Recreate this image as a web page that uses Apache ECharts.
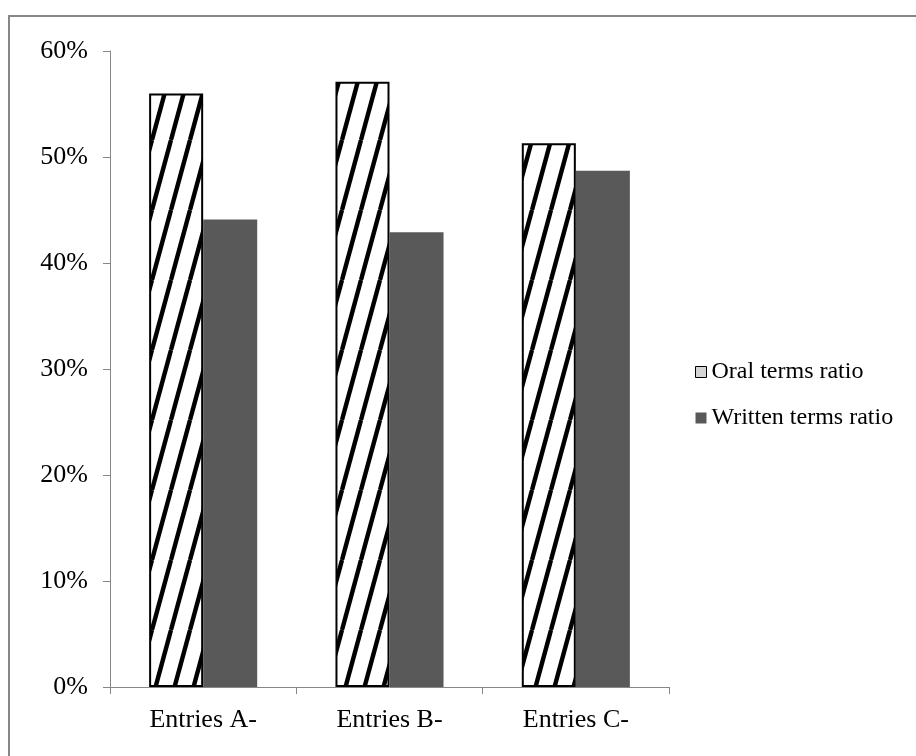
<!DOCTYPE html>
<html>
<head>
<meta charset="utf-8">
<script src="https://cdn.jsdelivr.net/npm/echarts@6/dist/echarts.min.js"></script>
<style>
  html, body { margin: 0; padding: 0; background: #fff; }
  #chart { width: 916px; height: 756px; }
</style>
</head>
<body>
<div id="chart"></div>
<script>
// Share of oral vs written terms per entry group (percent)
const categories = ['Entries A-', 'Entries B-', 'Entries C-'];
const oralRatio = [56.0, 57.1, 51.3];
const writtenRatio = [44.1, 42.9, 48.7];
const seriesNames = ['Oral terms ratio', 'Written terms ratio'];
const yMin = 0, yMax = 60, yStep = 10;

const FONT = '"Liberation Serif", "Times New Roman", serif';

// Diagonal hatch tile: steep black stripes on white
function makeHatch() {
  const w = 19, h = 70;
  const c = document.createElement('canvas');
  c.width = w; c.height = h;
  const ctx = c.getContext('2d');
  ctx.fillStyle = '#fff';
  ctx.fillRect(0, 0, w, h);
  ctx.strokeStyle = '#000';
  ctx.lineWidth = 4.4;
  for (let k = -1; k <= 1; k++) {
    ctx.beginPath();
    ctx.moveTo(k * w, h);
    ctx.lineTo(k * w + w, 0);
    ctx.stroke();
  }
  return c;
}

const chart = echarts.init(document.getElementById('chart'), null, { renderer: 'canvas' });

chart.setOption({
  animation: false,
  backgroundColor: '#fff',
  graphic: [{
    type: 'rect',
    shape: { x: 9, y: 16, width: 1000, height: 1000 },
    style: { fill: 'none', stroke: '#878787', lineWidth: 2 },
    silent: true
  }],
  grid: { left: 110, top: 51, right: 247, bottom: 69, containLabel: false },
  legend: {
    orient: 'vertical',
    left: 690,
    top: 354,
    itemWidth: 11,
    itemHeight: 11,
    itemGap: 20,
    icon: 'rect',
    textStyle: { fontFamily: FONT, fontSize: 24, color: '#000', lineHeight: 26 },
    data: [
      { name: seriesNames[0], itemStyle: { color: '#d4d4d4', borderColor: '#000', borderWidth: 1 } },
      { name: seriesNames[1], itemStyle: { color: '#595959' } }
    ]
  },
  xAxis: {
    type: 'category',
    data: categories,
    axisLine: { lineStyle: { color: '#878787', width: 1 } },
    axisTick: { show: true, length: 7, inside: false, lineStyle: { color: '#878787' } },
    axisLabel: { fontFamily: FONT, fontSize: 26, color: '#000', margin: 20 },
    splitLine: { show: false }
  },
  yAxis: {
    type: 'value',
    min: yMin, max: yMax, interval: yStep,
    axisLine: { show: true, lineStyle: { color: '#878787', width: 1 } },
    axisTick: { show: true, length: 7, lineStyle: { color: '#878787' } },
    axisLabel: { fontFamily: FONT, fontSize: 26, color: '#000', margin: 22, formatter: '{value}%' },
    splitLine: { show: false }
  },
  series: [
    {
      name: seriesNames[0],
      type: 'bar',
      data: oralRatio,
      barGap: '0%',
      barCategoryGap: '42%',
      itemStyle: {
        color: { image: makeHatch(), repeat: 'repeat' },
        borderColor: '#000',
        borderWidth: 2
      }
    },
    {
      name: seriesNames[1],
      type: 'bar',
      data: writtenRatio,
      barGap: '0%',
      barCategoryGap: '42%',
      itemStyle: { color: '#595959' }
    }
  ]
});
</script>
</body>
</html>
